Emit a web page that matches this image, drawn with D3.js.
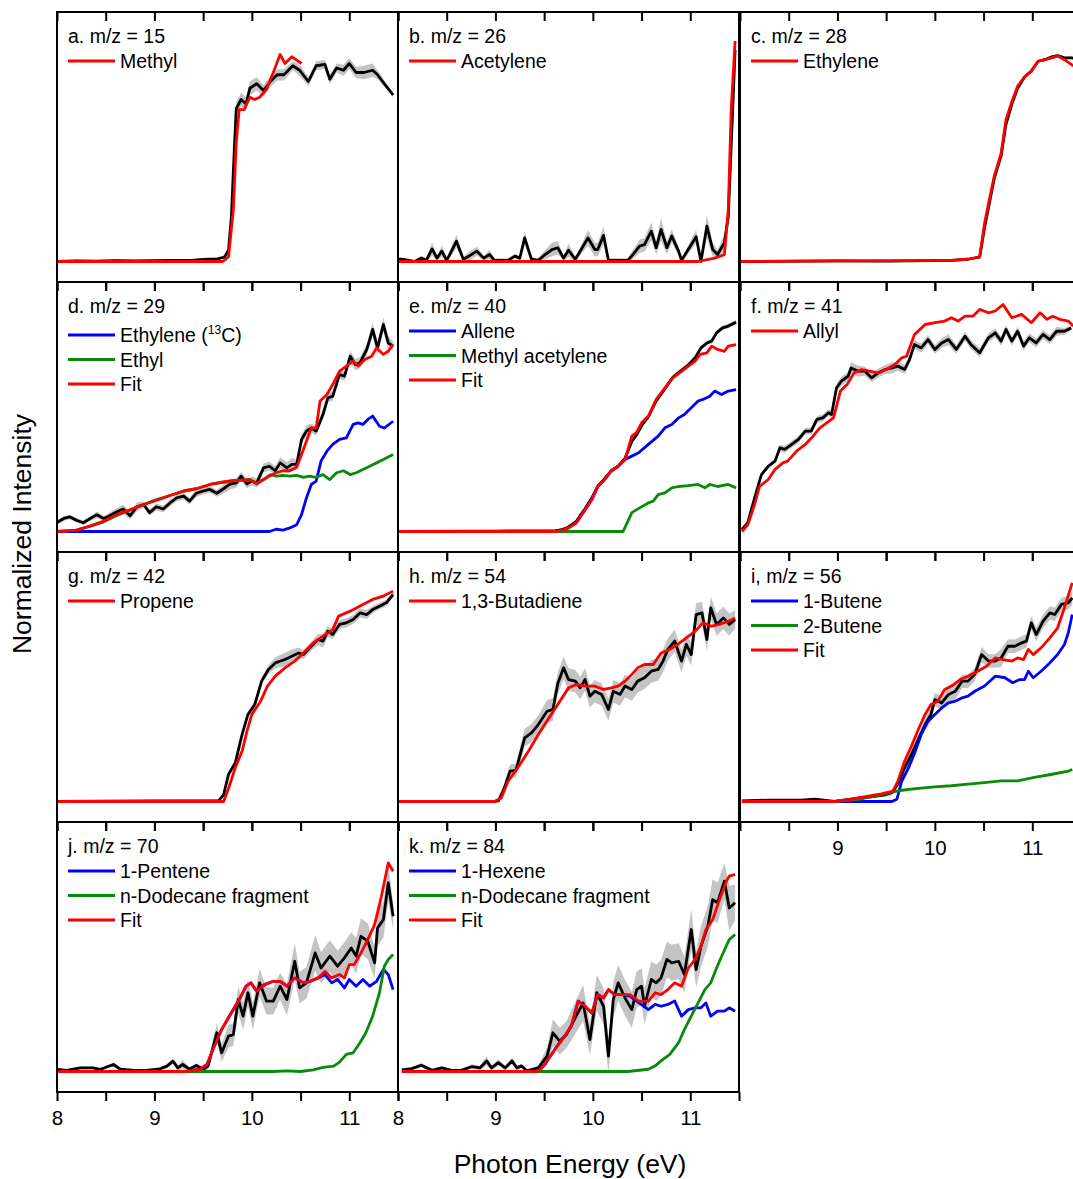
<!DOCTYPE html>
<html>
<head>
<meta charset="utf-8">
<script src="https://cdn.jsdelivr.net/npm/d3@7"></script>
<style>
  body { margin: 0; background: #fff; }
  svg { display: block; }
  text { font-family: "Liberation Sans", Arial, sans-serif; fill: #000; }
</style>
</head>
<body>
<div id="chart"></div>
<script>
// photon energy axis (eV)
const energyDomain = [8, 11.5];
const tickValues = [8, 8.5, 9, 9.5, 10, 10.5, 11, 11.5];
const tickLabelsFull = [8, 9, 10, 11];
const tickLabelsShort = [9, 10, 11];

// measured signals: [energy, normalized intensity, uncertainty]
// fitted components: [energy, normalized intensity]

// a. m/z = 15
const mz15Signal = [[8.00,0,0.005],[8.2,0.003,0.005],[8.4,0.002,0.005],[8.6,0.004,0.005],[8.8,0.003,0.005],[9.0,0.004,0.005],[9.2,0.005,0.005],[9.4,0.006,0.005],[9.55,0.01,0.006],[9.65,0.012,0.006],[9.72,0.02,0.008],[9.76,0.05,0.01],[9.79,0.2,0.02],[9.82,0.5,0.03],[9.84,0.68,0.03],[9.89,0.72,0.03],[9.94,0.70,0.03],[9.98,0.77,0.03],[10.05,0.79,0.03],[10.12,0.76,0.025],[10.19,0.80,0.025],[10.26,0.83,0.025],[10.33,0.83,0.025],[10.42,0.87,0.02],[10.49,0.85,0.025],[10.58,0.80,0.02],[10.66,0.87,0.02],[10.75,0.876,0.02],[10.80,0.81,0.02],[10.87,0.86,0.02],[10.94,0.85,0.025],[11.00,0.88,0.025],[11.07,0.84,0.025],[11.15,0.84,0.03],[11.24,0.85,0.03],[11.29,0.83,0.02],[11.36,0.79,0.015],[11.45,0.74,0.01]];
const mz15Methyl = [[8.0,0],[9.70,0],[9.76,0.02],[9.81,0.23],[9.84,0.53],[9.87,0.675],[9.92,0.675],[9.98,0.73],[10.03,0.72],[10.08,0.73],[10.15,0.765],[10.22,0.84],[10.29,0.92],[10.34,0.88],[10.41,0.91],[10.46,0.895],[10.51,0.88]];

// b. m/z = 26
const mz26Signal = [[8.00,0.01,0.005],[8.04,0.01,0.005],[8.17,0.0,0.005],[8.24,0.015,0.01],[8.29,0.005,0.01],[8.35,0.056,0.03],[8.40,0.015,0.01],[8.45,0.046,0.025],[8.50,0.005,0.01],[8.60,0.09,0.03],[8.67,0.01,0.01],[8.74,0.027,0.02],[8.81,0.046,0.02],[8.88,0.015,0.01],[8.94,0.031,0.02],[8.99,0.005,0.01],[9.13,0.005,0.01],[9.20,0.024,0.01],[9.25,0.015,0.01],[9.30,0.105,0.03],[9.37,0.01,0.01],[9.44,0.005,0.01],[9.51,0.031,0.02],[9.58,0.053,0.03],[9.64,0.061,0.03],[9.70,0.015,0.01],[9.75,0.05,0.03],[9.82,0.01,0.01],[9.88,0.053,0.02],[9.95,0.105,0.035],[10.02,0.053,0.03],[10.05,0.053,0.03],[10.11,0.116,0.04],[10.16,0.005,0.01],[10.36,0.005,0.01],[10.41,0.031,0.02],[10.48,0.068,0.03],[10.53,0.075,0.03],[10.60,0.135,0.04],[10.65,0.061,0.03],[10.70,0.142,0.05],[10.76,0.061,0.03],[10.81,0.113,0.03],[10.88,0.046,0.02],[10.91,0.005,0.01],[11.06,0.11,0.03],[11.11,0.0,0.01],[11.17,0.157,0.05],[11.23,0.053,0.03],[11.28,0.031,0.02],[11.35,0.083,0.04],[11.39,0.20,0.03],[11.43,0.62,0.03],[11.46,0.94,0.02]];
const mz26Acetylene = [[8.0,0],[11.08,0],[11.25,0.015],[11.35,0.03],[11.39,0.23],[11.42,0.676],[11.46,0.98]];

// c. m/z = 28
const mz28Signal = [[8.0,0,0.004],[9.0,0.003,0.004],[9.5,0.002,0.004],[10.0,0.004,0.004],[10.17,0.005,0.004],[10.34,0.01,0.004],[10.46,0.02,0.005],[10.51,0.15,0.006],[10.56,0.26,0.006],[10.61,0.37,0.006],[10.68,0.47,0.006],[10.73,0.61,0.006],[10.79,0.70,0.006],[10.85,0.77,0.006],[10.92,0.82,0.006],[10.99,0.846,0.006],[11.06,0.89,0.006],[11.13,0.897,0.006],[11.20,0.91,0.006],[11.26,0.915,0.006],[11.33,0.905,0.006],[11.40,0.905,0.006],[11.47,0.90,0.006]];
const mz28Ethylene = [[8.0,0],[10.17,0.005],[10.34,0.01],[10.46,0.02],[10.51,0.17],[10.56,0.276],[10.61,0.38],[10.68,0.48],[10.73,0.63],[10.79,0.71],[10.85,0.78],[10.92,0.82],[10.99,0.846],[11.06,0.89],[11.13,0.897],[11.20,0.905],[11.26,0.913],[11.33,0.897],[11.40,0.876],[11.47,0.86]];

// d. m/z = 29
const mz29Signal = [[8.00,0.04,0.01],[8.07,0.058,0.01],[8.13,0.065,0.01],[8.20,0.05,0.01],[8.27,0.039,0.01],[8.34,0.058,0.01],[8.41,0.074,0.015],[8.48,0.058,0.01],[8.54,0.07,0.015],[8.61,0.087,0.015],[8.68,0.1,0.02],[8.75,0.07,0.015],[8.82,0.11,0.02],[8.89,0.12,0.015],[8.95,0.084,0.015],[9.02,0.11,0.015],[9.09,0.1,0.015],[9.16,0.127,0.015],[9.23,0.15,0.015],[9.30,0.157,0.015],[9.36,0.135,0.015],[9.43,0.17,0.015],[9.50,0.18,0.015],[9.57,0.187,0.015],[9.64,0.17,0.015],[9.71,0.19,0.02],[9.77,0.209,0.025],[9.84,0.216,0.02],[9.89,0.246,0.02],[9.95,0.212,0.02],[10.00,0.224,0.02],[10.05,0.216,0.02],[10.12,0.283,0.02],[10.18,0.29,0.02],[10.24,0.27,0.02],[10.29,0.305,0.025],[10.36,0.283,0.025],[10.41,0.298,0.03],[10.46,0.298,0.02],[10.51,0.409,0.02],[10.56,0.446,0.025],[10.61,0.46,0.02],[10.66,0.446,0.02],[10.73,0.52,0.02],[10.78,0.594,0.02],[10.83,0.601,0.02],[10.90,0.698,0.02],[10.95,0.69,0.02],[11.01,0.779,0.025],[11.06,0.742,0.025],[11.11,0.75,0.025],[11.18,0.809,0.025],[11.24,0.898,0.03],[11.29,0.816,0.03],[11.35,0.92,0.03],[11.40,0.838,0.03],[11.45,0.824,0.02]];
const mz29Ethylene13C = [[8.00,0],[10.18,0],[10.25,0.01],[10.32,0.006],[10.39,0.016],[10.46,0.03],[10.51,0.075],[10.56,0.149],[10.61,0.209],[10.66,0.224],[10.71,0.313],[10.77,0.357],[10.83,0.387],[10.90,0.409],[10.97,0.416],[11.04,0.476],[11.09,0.483],[11.14,0.476],[11.19,0.498],[11.24,0.513],[11.31,0.468],[11.36,0.46],[11.45,0.49]];
const mz29Ethyl = [[8.00,0],[8.20,0.006],[8.34,0.024],[8.48,0.043],[8.61,0.07],[8.75,0.096],[8.89,0.12],[9.02,0.142],[9.16,0.16],[9.30,0.18],[9.43,0.19],[9.57,0.209],[9.71,0.22],[9.84,0.227],[9.98,0.23],[10.05,0.212],[10.12,0.231],[10.19,0.253],[10.25,0.246],[10.32,0.249],[10.39,0.246],[10.46,0.249],[10.53,0.241],[10.59,0.246],[10.66,0.241],[10.73,0.253],[10.80,0.231],[10.87,0.261],[10.94,0.27],[11.01,0.253],[11.07,0.261],[11.14,0.276],[11.21,0.29],[11.28,0.305],[11.35,0.32],[11.45,0.342]];
const mz29Fit = [[8.00,0],[8.20,0.006],[8.34,0.024],[8.48,0.046],[8.61,0.075],[8.75,0.096],[8.89,0.12],[9.02,0.138],[9.16,0.16],[9.30,0.18],[9.43,0.19],[9.57,0.209],[9.71,0.22],[9.84,0.227],[9.98,0.23],[10.05,0.212],[10.12,0.231],[10.18,0.246],[10.25,0.261],[10.32,0.27],[10.39,0.27],[10.46,0.286],[10.51,0.342],[10.56,0.401],[10.61,0.46],[10.66,0.46],[10.70,0.58],[10.77,0.609],[10.83,0.653],[10.90,0.713],[10.97,0.735],[11.04,0.757],[11.09,0.735],[11.16,0.764],[11.23,0.779],[11.28,0.816],[11.35,0.787],[11.40,0.801],[11.45,0.831]];

// e. m/z = 40
const mz40Signal = [[8.0,0,0.004],[9.0,0.002,0.004],[9.61,0.003,0.004],[9.68,0.008,0.005],[9.75,0.02,0.005],[9.83,0.045,0.006],[9.91,0.095,0.008],[9.99,0.15,0.008],[10.05,0.2,0.008],[10.12,0.235,0.008],[10.19,0.27,0.008],[10.26,0.29,0.008],[10.33,0.325,0.008],[10.40,0.40,0.01],[10.45,0.43,0.01],[10.50,0.47,0.01],[10.57,0.51,0.01],[10.65,0.58,0.01],[10.74,0.635,0.01],[10.82,0.685,0.01],[10.89,0.71,0.01],[10.98,0.74,0.01],[11.05,0.772,0.01],[11.11,0.816,0.01],[11.17,0.838,0.01],[11.22,0.846,0.01],[11.27,0.883,0.01],[11.33,0.905,0.01],[11.39,0.913,0.01],[11.47,0.93,0.01]];
const mz40Allene = [[8.0,0],[9.61,0],[9.68,0.005],[9.75,0.016],[9.83,0.039],[9.91,0.09],[9.99,0.142],[10.05,0.2],[10.12,0.231],[10.19,0.27],[10.26,0.29],[10.33,0.32],[10.40,0.335],[10.47,0.35],[10.57,0.387],[10.67,0.424],[10.74,0.461],[10.81,0.476],[10.88,0.505],[10.94,0.52],[11.01,0.55],[11.08,0.58],[11.13,0.587],[11.20,0.601],[11.25,0.624],[11.32,0.609],[11.39,0.624],[11.47,0.631]];
const mz40MethylAcetylene = [[8.0,0],[10.31,0],[10.36,0.046],[10.40,0.084],[10.48,0.105],[10.57,0.127],[10.62,0.135],[10.67,0.164],[10.74,0.172],[10.81,0.194],[10.88,0.2],[10.98,0.204],[11.08,0.209],[11.15,0.194],[11.20,0.209],[11.28,0.2],[11.39,0.209],[11.47,0.194]];
const mz40Fit = [[8.0,0],[9.61,0],[9.68,0.005],[9.75,0.016],[9.83,0.039],[9.91,0.09],[9.99,0.142],[10.05,0.2],[10.12,0.231],[10.19,0.27],[10.26,0.29],[10.33,0.32],[10.40,0.424],[10.45,0.44],[10.50,0.483],[10.57,0.513],[10.65,0.587],[10.74,0.638],[10.82,0.683],[10.89,0.705],[10.98,0.735],[11.05,0.757],[11.10,0.787],[11.17,0.794],[11.22,0.824],[11.28,0.809],[11.35,0.801],[11.39,0.824],[11.47,0.831]];

// f. m/z = 41
const mz41Signal = [[8.02,0.009,0.005],[8.08,0.039,0.01],[8.15,0.15,0.01],[8.22,0.253,0.01],[8.29,0.29,0.01],[8.36,0.313,0.01],[8.41,0.372,0.015],[8.46,0.365,0.015],[8.53,0.387,0.015],[8.60,0.409,0.015],[8.67,0.446,0.015],[8.73,0.446,0.015],[8.79,0.498,0.015],[8.85,0.505,0.015],[8.91,0.528,0.015],[8.94,0.52,0.015],[8.99,0.638,0.02],[9.04,0.668,0.02],[9.11,0.69,0.02],[9.14,0.727,0.025],[9.21,0.713,0.025],[9.28,0.713,0.02],[9.35,0.683,0.02],[9.42,0.705,0.02],[9.49,0.72,0.02],[9.56,0.727,0.025],[9.62,0.735,0.02],[9.69,0.72,0.02],[9.74,0.764,0.02],[9.79,0.831,0.02],[9.86,0.816,0.02],[9.93,0.853,0.02],[10.00,0.809,0.02],[10.07,0.838,0.02],[10.14,0.853,0.025],[10.22,0.809,0.02],[10.31,0.868,0.02],[10.37,0.831,0.02],[10.46,0.794,0.02],[10.55,0.861,0.02],[10.62,0.883,0.02],[10.68,0.846,0.02],[10.73,0.898,0.02],[10.79,0.846,0.02],[10.85,0.89,0.02],[10.91,0.824,0.02],[10.97,0.861,0.02],[11.04,0.838,0.02],[11.11,0.876,0.02],[11.18,0.853,0.02],[11.25,0.89,0.02],[11.33,0.89,0.015],[11.40,0.905,0.01]];
const mz41Allyl = [[8.02,0],[8.08,0.03],[8.15,0.12],[8.20,0.2],[8.29,0.231],[8.36,0.276],[8.44,0.305],[8.49,0.313],[8.58,0.357],[8.67,0.387],[8.75,0.424],[8.82,0.461],[8.89,0.483],[8.96,0.505],[9.03,0.624],[9.10,0.653],[9.17,0.705],[9.25,0.72],[9.33,0.713],[9.42,0.705],[9.50,0.72],[9.59,0.742],[9.66,0.772],[9.71,0.779],[9.79,0.875],[9.90,0.92],[10.00,0.928],[10.10,0.935],[10.17,0.95],[10.24,0.935],[10.31,0.957],[10.39,0.957],[10.46,0.987],[10.55,0.972],[10.62,0.98],[10.70,1.009],[10.79,0.95],[10.89,0.965],[10.99,0.928],[11.08,0.972],[11.15,0.943],[11.21,0.957],[11.28,0.943],[11.37,0.935],[11.42,0.913]];

// g. m/z = 42
const mz42Signal = [[8.0,0,0.004],[9.0,0.003,0.004],[9.66,0.004,0.005],[9.71,0.03,0.008],[9.76,0.12,0.01],[9.83,0.172,0.01],[9.90,0.298,0.015],[9.96,0.387,0.015],[10.03,0.431,0.015],[10.10,0.535,0.015],[10.17,0.587,0.02],[10.24,0.616,0.025],[10.34,0.631,0.03],[10.41,0.646,0.03],[10.48,0.66,0.025],[10.53,0.653,0.02],[10.61,0.69,0.02],[10.68,0.72,0.025],[10.73,0.713,0.03],[10.78,0.757,0.025],[10.83,0.742,0.02],[10.90,0.787,0.02],[10.97,0.794,0.02],[11.04,0.809,0.02],[11.11,0.838,0.02],[11.18,0.831,0.02],[11.24,0.853,0.015],[11.31,0.868,0.015],[11.38,0.883,0.015],[11.45,0.92,0.01]];
const mz42Propene = [[8.0,0],[9.71,0],[9.76,0.058],[9.83,0.15],[9.90,0.224],[9.95,0.313],[10.00,0.387],[10.09,0.446],[10.16,0.513],[10.24,0.557],[10.34,0.594],[10.44,0.624],[10.53,0.66],[10.63,0.705],[10.73,0.735],[10.83,0.764],[10.89,0.824],[11.01,0.846],[11.14,0.876],[11.24,0.898],[11.35,0.913],[11.45,0.935]];

// h. m/z = 54
const mz54Signal = [[8.0,0,0.004],[9.0,0.002,0.004],[9.03,0.003,0.006],[9.09,0.058,0.02],[9.15,0.135,0.03],[9.21,0.138,0.03],[9.30,0.283,0.04],[9.37,0.305,0.04],[9.44,0.342,0.04],[9.53,0.401,0.05],[9.59,0.409,0.05],[9.64,0.524,0.05],[9.70,0.594,0.05],[9.75,0.542,0.05],[9.82,0.535,0.05],[9.87,0.505,0.05],[9.92,0.542,0.05],[9.97,0.468,0.05],[10.02,0.49,0.05],[10.09,0.476,0.05],[10.16,0.409,0.05],[10.21,0.49,0.05],[10.28,0.476,0.05],[10.33,0.513,0.05],[10.40,0.498,0.05],[10.46,0.535,0.05],[10.53,0.55,0.05],[10.60,0.579,0.05],[10.67,0.587,0.05],[10.72,0.624,0.05],[10.77,0.676,0.05],[10.84,0.713,0.05],[10.91,0.624,0.05],[10.96,0.698,0.05],[11.01,0.653,0.05],[11.06,0.831,0.05],[11.12,0.838,0.05],[11.17,0.72,0.05],[11.21,0.861,0.05],[11.27,0.787,0.05],[11.34,0.816,0.05],[11.40,0.787,0.05],[11.46,0.809,0.04]];
const mz54Butadiene = [[8.0,0],[8.99,0],[9.06,0.016],[9.13,0.09],[9.23,0.15],[9.34,0.224],[9.44,0.298],[9.54,0.365],[9.64,0.431],[9.75,0.505],[9.83,0.52],[9.92,0.513],[10.02,0.513],[10.11,0.498],[10.19,0.505],[10.26,0.513],[10.33,0.535],[10.40,0.565],[10.46,0.594],[10.53,0.609],[10.62,0.609],[10.70,0.66],[10.79,0.676],[10.87,0.698],[10.96,0.727],[11.05,0.757],[11.13,0.794],[11.22,0.779],[11.30,0.787],[11.39,0.801],[11.46,0.816]];

// i. m/z = 56
const mz56Signal = [[8.02,0.003,0.005],[8.29,0.006,0.005],[8.63,0.006,0.005],[8.77,0.01,0.006],[8.97,0,0.005],[9.14,0.01,0.006],[9.32,0.02,0.008],[9.49,0.03,0.008],[9.56,0.039,0.01],[9.62,0.077,0.01],[9.69,0.15,0.015],[9.76,0.209,0.02],[9.83,0.276,0.02],[9.90,0.342,0.025],[9.96,0.387,0.03],[10.00,0.453,0.03],[10.07,0.438,0.03],[10.14,0.476,0.035],[10.21,0.49,0.035],[10.28,0.535,0.03],[10.34,0.535,0.03],[10.41,0.565,0.03],[10.48,0.653,0.035],[10.55,0.624,0.03],[10.62,0.624,0.03],[10.68,0.638,0.04],[10.75,0.69,0.03],[10.82,0.69,0.03],[10.89,0.705,0.03],[10.94,0.713,0.03],[10.99,0.794,0.03],[11.04,0.742,0.03],[11.11,0.801,0.03],[11.18,0.838,0.03],[11.23,0.831,0.03],[11.30,0.876,0.03],[11.37,0.883,0.03],[11.41,0.905,0.03]];
const mz56Butene1 = [[8.02,0],[9.56,0],[9.61,0.01],[9.66,0.09],[9.73,0.15],[9.80,0.224],[9.86,0.298],[9.93,0.357],[10.00,0.387],[10.07,0.416],[10.14,0.438],[10.21,0.446],[10.28,0.461],[10.34,0.468],[10.41,0.49],[10.51,0.513],[10.62,0.557],[10.72,0.55],[10.80,0.528],[10.87,0.542],[10.92,0.542],[10.96,0.579],[11.01,0.55],[11.09,0.579],[11.18,0.616],[11.26,0.653],[11.33,0.698],[11.37,0.75],[11.41,0.831]];
const mz56Butene2 = [[8.02,0],[8.97,0],[9.14,0.006],[9.25,0.012],[9.32,0.02],[9.45,0.03],[9.57,0.043],[9.66,0.05],[9.83,0.058],[10.00,0.065],[10.17,0.07],[10.34,0.077],[10.51,0.084],[10.68,0.092],[10.85,0.092],[11.02,0.107],[11.19,0.12],[11.37,0.135],[11.41,0.142]];
const mz56Fit = [[8.02,0],[8.97,0],[9.14,0.01],[9.32,0.024],[9.45,0.034],[9.57,0.046],[9.62,0.09],[9.69,0.18],[9.76,0.246],[9.83,0.32],[9.90,0.387],[9.96,0.431],[10.03,0.446],[10.10,0.498],[10.17,0.513],[10.26,0.542],[10.34,0.557],[10.44,0.579],[10.53,0.601],[10.62,0.638],[10.70,0.631],[10.79,0.624],[10.85,0.638],[10.91,0.631],[10.96,0.676],[11.01,0.653],[11.09,0.683],[11.18,0.727],[11.26,0.772],[11.33,0.861],[11.41,0.972]];

// j. m/z = 70
const mz70Signal = [[8.00,0.009,0.005],[8.10,0.005,0.005],[8.24,0.016,0.006],[8.37,0.016,0.006],[8.44,0.009,0.005],[8.58,0.031,0.008],[8.65,0.01,0.006],[8.79,0.005,0.005],[8.92,0.005,0.005],[9.06,0.012,0.008],[9.13,0.024,0.01],[9.19,0.046,0.012],[9.24,0.016,0.012],[9.29,0.031,0.02],[9.36,0.01,0.01],[9.43,0.027,0.01],[9.50,0.01,0.01],[9.55,0.024,0.015],[9.64,0.172,0.04],[9.69,0.083,0.04],[9.76,0.157,0.05],[9.81,0.164,0.05],[9.86,0.32,0.06],[9.91,0.246,0.06],[9.96,0.35,0.06],[10.01,0.246,0.06],[10.08,0.394,0.06],[10.15,0.313,0.06],[10.22,0.313,0.06],[10.29,0.379,0.06],[10.36,0.32,0.07],[10.44,0.49,0.08],[10.49,0.372,0.07],[10.56,0.394,0.07],[10.65,0.527,0.08],[10.71,0.46,0.07],[10.80,0.513,0.07],[10.88,0.468,0.07],[10.95,0.505,0.07],[11.02,0.549,0.07],[11.07,0.513,0.08],[11.12,0.601,0.08],[11.19,0.579,0.08],[11.26,0.483,0.07],[11.29,0.638,0.08],[11.35,0.675,0.08],[11.40,0.838,0.08],[11.45,0.69,0.06]];
const mz70Pentene = [[8.00,0],[9.33,0],[9.47,0.01],[9.54,0.031],[9.60,0.098],[9.69,0.187],[9.79,0.261],[9.88,0.327],[9.94,0.379],[9.99,0.394],[10.05,0.357],[10.13,0.386],[10.22,0.401],[10.29,0.401],[10.36,0.379],[10.44,0.416],[10.53,0.394],[10.60,0.401],[10.68,0.416],[10.75,0.431],[10.82,0.394],[10.88,0.409],[10.95,0.372],[11.00,0.409],[11.07,0.379],[11.14,0.409],[11.21,0.379],[11.28,0.401],[11.35,0.453],[11.40,0.431],[11.45,0.364]];
const mz70Dodecane = [[8.00,0],[10.22,0],[10.36,0.003],[10.50,0],[10.63,0.007],[10.73,0.018],[10.84,0.024],[10.90,0.042],[10.97,0.076],[11.04,0.083],[11.11,0.128],[11.17,0.172],[11.24,0.246],[11.31,0.35],[11.36,0.468],[11.40,0.498],[11.45,0.52]];
const mz70Fit = [[8.00,0],[9.33,0],[9.47,0.01],[9.54,0.031],[9.60,0.098],[9.69,0.187],[9.79,0.261],[9.88,0.327],[9.94,0.379],[9.99,0.394],[10.05,0.357],[10.13,0.386],[10.22,0.401],[10.29,0.401],[10.36,0.379],[10.44,0.416],[10.53,0.394],[10.60,0.401],[10.68,0.416],[10.75,0.446],[10.82,0.416],[10.90,0.431],[10.95,0.416],[11.00,0.475],[11.05,0.475],[11.12,0.527],[11.19,0.586],[11.26,0.653],[11.33,0.779],[11.40,0.927],[11.45,0.890]];

// k. m/z = 84
const mz84Signal = [[8.04,0.007,0.005],[8.14,0.013,0.006],[8.24,0.028,0.01],[8.35,0.005,0.006],[8.45,0.016,0.008],[8.55,0.005,0.005],[8.65,0.005,0.006],[8.76,0.022,0.01],[8.84,0.016,0.01],[8.91,0.047,0.02],[8.96,0.016,0.01],[9.03,0.039,0.015],[9.10,0.016,0.01],[9.17,0.047,0.015],[9.22,0.016,0.01],[9.27,0.025,0.01],[9.32,0.003,0.005],[9.44,0.016,0.01],[9.53,0.068,0.04],[9.59,0.172,0.06],[9.66,0.135,0.06],[9.73,0.164,0.06],[9.81,0.231,0.07],[9.90,0.305,0.08],[9.97,0.142,0.07],[10.04,0.35,0.08],[10.11,0.29,0.08],[10.16,0.068,0.08],[10.21,0.32,0.08],[10.26,0.394,0.08],[10.33,0.327,0.08],[10.40,0.275,0.08],[10.45,0.364,0.08],[10.50,0.379,0.08],[10.53,0.29,0.08],[10.60,0.409,0.08],[10.65,0.394,0.08],[10.70,0.416,0.08],[10.76,0.498,0.08],[10.81,0.483,0.08],[10.88,0.49,0.08],[10.94,0.431,0.08],[11.01,0.631,0.09],[11.06,0.453,0.08],[11.11,0.557,0.09],[11.18,0.646,0.09],[11.23,0.764,0.09],[11.28,0.75,0.09],[11.35,0.846,0.08],[11.40,0.727,0.1],[11.46,0.75,0.08]];
const mz84Hexene = [[8.04,0],[9.44,0],[9.51,0.033],[9.61,0.098],[9.71,0.157],[9.78,0.202],[9.85,0.313],[9.92,0.29],[9.99,0.26],[10.05,0.342],[10.11,0.327],[10.16,0.364],[10.22,0.342],[10.31,0.342],[10.38,0.335],[10.47,0.306],[10.57,0.275],[10.64,0.298],[10.70,0.29],[10.77,0.298],[10.84,0.313],[10.91,0.246],[10.98,0.275],[11.05,0.283],[11.11,0.283],[11.16,0.305],[11.21,0.246],[11.28,0.268],[11.35,0.268],[11.40,0.283],[11.46,0.268]];
const mz84Dodecane = [[8.04,0],[10.36,0],[10.57,0.01],[10.64,0.025],[10.70,0.047],[10.79,0.076],[10.88,0.128],[10.94,0.187],[11.01,0.246],[11.08,0.305],[11.15,0.364],[11.21,0.394],[11.27,0.46],[11.33,0.52],[11.40,0.586],[11.46,0.609]];
const mz84Fit = [[8.04,0],[9.44,0],[9.51,0.033],[9.61,0.098],[9.71,0.157],[9.78,0.202],[9.85,0.313],[9.92,0.29],[9.99,0.26],[10.05,0.342],[10.11,0.327],[10.16,0.364],[10.22,0.342],[10.31,0.342],[10.38,0.342],[10.47,0.313],[10.57,0.313],[10.64,0.35],[10.70,0.342],[10.77,0.364],[10.84,0.394],[10.91,0.379],[10.98,0.46],[11.05,0.498],[11.11,0.557],[11.16,0.631],[11.23,0.675],[11.30,0.764],[11.37,0.846],[11.40,0.868],[11.46,0.876]];

const RED = "#ff0000", BLUE = "#0000ff", GREEN = "#0a8a0a";

// panel layout: row / column in the grid, which tick labels are shown
const panels = [
  {row: 0, col: 0, title: "a. m/z = 15", signal: mz15Signal, comps: [{label: "Methyl", color: RED, data: mz15Methyl}]},
  {row: 0, col: 1, title: "b. m/z = 26", signal: mz26Signal, comps: [{label: "Acetylene", color: RED, data: mz26Acetylene}]},
  {row: 0, col: 2, title: "c. m/z = 28", signal: mz28Signal, comps: [{label: "Ethylene", color: RED, data: mz28Ethylene}]},
  {row: 1, col: 0, title: "d. m/z = 29", signal: mz29Signal, comps: [
    {label: "Ethylene (^13C)", color: BLUE, data: mz29Ethylene13C},
    {label: "Ethyl", color: GREEN, data: mz29Ethyl},
    {label: "Fit", color: RED, data: mz29Fit}]},
  {row: 1, col: 1, title: "e. m/z = 40", signal: mz40Signal, comps: [
    {label: "Allene", color: BLUE, data: mz40Allene},
    {label: "Methyl acetylene", color: GREEN, data: mz40MethylAcetylene},
    {label: "Fit", color: RED, data: mz40Fit}]},
  {row: 1, col: 2, title: "f. m/z = 41", signal: mz41Signal, comps: [{label: "Allyl", color: RED, data: mz41Allyl}]},
  {row: 2, col: 0, title: "g. m/z = 42", signal: mz42Signal, comps: [{label: "Propene", color: RED, data: mz42Propene}]},
  {row: 2, col: 1, title: "h. m/z = 54", signal: mz54Signal, comps: [{label: "1,3-Butadiene", color: RED, data: mz54Butadiene}]},
  {row: 2, col: 2, title: "i, m/z = 56", signal: mz56Signal, labels: tickLabelsShort, comps: [
    {label: "1-Butene", color: BLUE, data: mz56Butene1},
    {label: "2-Butene", color: GREEN, data: mz56Butene2},
    {label: "Fit", color: RED, data: mz56Fit}]},
  {row: 3, col: 0, title: "j. m/z = 70", signal: mz70Signal, labels: tickLabelsFull, comps: [
    {label: "1-Pentene", color: BLUE, data: mz70Pentene},
    {label: "n-Dodecane fragment", color: GREEN, data: mz70Dodecane},
    {label: "Fit", color: RED, data: mz70Fit}]},
  {row: 3, col: 1, title: "k. m/z = 84", signal: mz84Signal, labels: tickLabelsFull, comps: [
    {label: "1-Hexene", color: BLUE, data: mz84Hexene},
    {label: "n-Dodecane fragment", color: GREEN, data: mz84Dodecane},
    {label: "Fit", color: RED, data: mz84Fit}]}
];

var W = 1073, H = 1179;
var colLeft = [57, 398, 740], rowTop = [12, 282, 552, 822];
var pw = 341, ph = 270;
var fs = 19.5;

var svg = d3.select("#chart").append("svg")
    .attr("width", W).attr("height", H);

var x = d3.scaleLinear().domain(energyDomain).range([0, pw]);
// baseline sits ~20px above the bottom frame
var y = d3.scaleLinear().domain([0, 1]).range([ph - 20.5, ph - 245.5]);

var line = d3.line().x(d => x(d[0])).y(d => y(d[1]));
var band = d3.area().x(d => x(d[0]))
    .y0(d => y(d[1] - d[2])).y1(d => y(d[1] + d[2]));

panels.forEach(function(p) {
  var g = svg.append("g")
      .attr("transform", "translate(" + colLeft[p.col] + "," + rowTop[p.row] + ")");

  g.append("path").datum(p.signal)
    .attr("fill", "#c4c4c4").attr("d", band);
  g.append("path").datum(p.signal)
    .attr("fill", "none").attr("stroke", "#000").attr("stroke-width", 2.8)
    .attr("stroke-linejoin", "round").attr("d", line);

  p.comps.forEach(function(c) {
    g.append("path").datum(c.data)
      .attr("fill", "none").attr("stroke", c.color).attr("stroke-width", 2.8)
      .attr("stroke-linejoin", "round").attr("d", line);
  });

  // frame
  g.append("rect").attr("width", pw).attr("height", ph)
    .attr("fill", "none").attr("stroke", "#000").attr("stroke-width", 2);

  // top ticks (inward) and bottom ticks (outward)
  var labels = p.labels || [];
  var top = g.append("g").call(d3.axisBottom(x).tickValues(tickValues).tickSize(9).tickFormat(""));
  var bottom = g.append("g").attr("transform", "translate(0," + ph + ")")
    .call(d3.axisBottom(x).tickValues(tickValues).tickSize(9).tickPadding(9)
      .tickFormat(d => labels.indexOf(d) >= 0 ? d : ""));
  [top, bottom].forEach(function(a) {
    a.select(".domain").remove();
    a.selectAll(".tick line").attr("stroke", "#000").attr("stroke-width", 2);
  });
  bottom.selectAll(".tick text").attr("font-size", 20.5)
    .attr("font-family", "Liberation Sans, Arial, sans-serif").attr("fill", "#000");

  // title and legend
  g.append("text").attr("x", 11).attr("y", 31)
    .attr("font-size", fs).text(p.title);

  var hasSup = p.comps.some(c => c.label.indexOf("^") >= 0);
  var ly = hasSup ? 53 : 49;
  p.comps.forEach(function(c, i) {
    var yy = ly + i * 24.5;
    g.append("line").attr("x1", 11).attr("x2", 58).attr("y1", yy).attr("y2", yy)
      .attr("stroke", c.color).attr("stroke-width", 2.8);
    var t = g.append("text").attr("x", 63).attr("y", yy + 7).attr("font-size", fs);
    var parts = c.label.split(/\^(\d+)/);
    parts.forEach(function(s, k) {
      if (k % 2 === 1) {
        t.append("tspan").attr("font-size", 12).attr("dy", -8).text(s);
      } else if (k > 0) {
        t.append("tspan").attr("dy", 8).text(s);
      } else {
        t.append("tspan").text(s);
      }
    });
  });
});

// axis titles
svg.append("text")
  .attr("x", 570).attr("y", 1173)
  .attr("text-anchor", "middle").attr("font-size", 26.5)
  .text("Photon Energy (eV)");

svg.append("text")
  .attr("transform", "translate(31,534) rotate(-90)")
  .attr("text-anchor", "middle").attr("font-size", 26.5)
  .text("Normalized Intensity");
</script>
</body>
</html>
